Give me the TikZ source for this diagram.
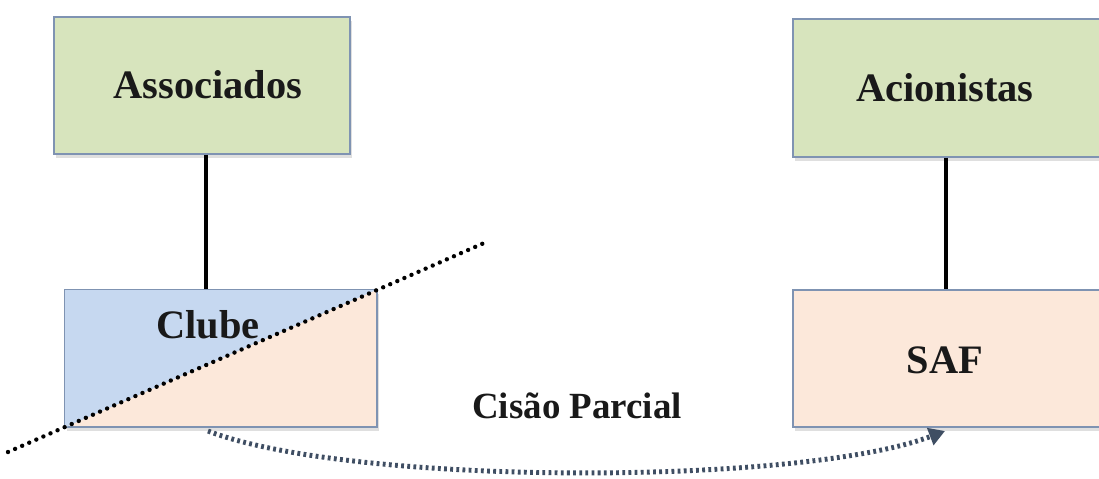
\documentclass[tikz,border=0pt]{standalone}
\usepackage{fontspec}
\setmainfont{Liberation Serif}
\usetikzlibrary{arrows.meta,shadows}
\definecolor{boxgreen}{HTML}{D7E4BD}
\definecolor{boxblue}{HTML}{C6D8F0}
\definecolor{boxpeach}{HTML}{FCE8DA}
\definecolor{boxline}{HTML}{7F93B2}
\definecolor{arrowcol}{HTML}{3F4E63}
\tikzset{
  box/.style={draw=boxline, line width=0.8pt, inner sep=0pt,
    drop shadow={shadow xshift=1pt, shadow yshift=-2pt, opacity=0.25}},
  lbl/.style={font=\fontsize{23}{27}\selectfont\bfseries, text=black!90},
  link/.style={line width=2.4pt, black},
  cutline/.style={line width=2.5pt, dash pattern=on 0pt off 4.4pt, line cap=round, black},
  splitarrow/.style={line width=2.8pt, arrowcol, dash pattern=on 1.6pt off 1.9pt,
    -{Triangle[length=9pt,width=10pt]}}
}
\begin{document}
\begin{tikzpicture}[x=0.02cm,y=-0.02cm]
\clip (0,0) rectangle (1099,478);
\fill[white] (0,0) rectangle (1099,478);
% boxes
\node[box, fill=boxgreen, minimum width=5.92cm, minimum height=2.74cm] (assoc) at (202,85.5) {};
\node[lbl] (assoct) at (208,85) {Associados};
\node[box, fill=boxgreen, minimum width=6.24cm, minimum height=2.76cm] (acion) at (949,88) {};
\node[lbl] (aciont) at (945,88) {Acionistas};
\node[box, fill=boxpeach, minimum width=6.24cm, minimum height=2.74cm] (clube) at (221,358.5) {};
\fill[boxblue] (clube.north west) -- (clube.north east) -- (clube.south west) -- cycle;
\draw[boxline, line width=0.8pt] (clube.north west) rectangle (clube.south east);
\node[lbl] (clubet) at (208,325) {Clube};
\node[box, fill=boxpeach, minimum width=6.24cm, minimum height=2.74cm] (saf) at (949,358.5) {};
\node[lbl] (saft) at (945,360) {SAF};
% connectors
\draw[link] ([xshift=0.08cm]assoc.south) -- ([xshift=0.08cm]assoc.south |- clube.north);
\draw[link] ([xshift=-0.06cm]acion.south) -- ([xshift=-0.06cm]acion.south |- saf.north);
% cut line
\coordinate (cutA) at (8,452);
\coordinate (cutB) at (487,241.7);
\draw[cutline] (cutA) -- (cutB);
% split arrow
\coordinate (arrS) at (208,431);
\coordinate (arrE) at (945,431);
\draw[splitarrow] (arrS) .. controls (350,486) and (800,486) .. (arrE);
\node[lbl, font=\fontsize{21}{25}\selectfont\bfseries] (cisao) at (577,406) {Cisão Parcial};
\end{tikzpicture}
\end{document}
